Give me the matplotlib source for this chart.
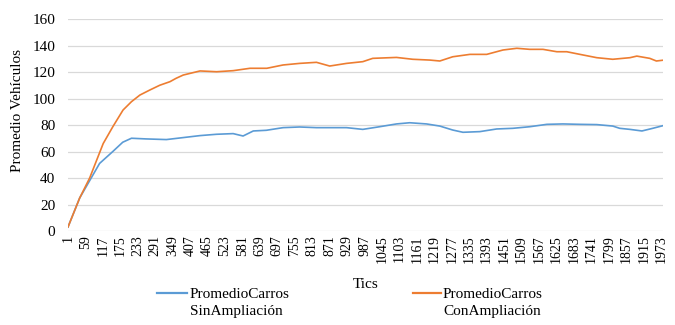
import matplotlib
matplotlib.use("Agg")
import matplotlib.pyplot as plt
from matplotlib.lines import Line2D

plt.rcParams['font.family'] = ['Liberation Serif', 'DejaVu Serif']

# Series (tic, value)
sin_tics = [1, 40, 73, 106, 150, 183, 212, 260, 328, 384, 440, 495, 550, 583, 617, 660,
            716, 771, 827, 871, 927, 981, 1037, 1093, 1137, 1193, 1237, 1280, 1314, 1370,
            1426, 1480, 1536, 1593, 1646, 1703, 1759, 1812, 1835, 1869, 1909, 1945, 1979]
sin_vals = [3, 25, 38, 51, 60, 67, 70, 69.5, 69, 70.5, 72, 73, 73.5, 71.7, 75.5, 76,
            78, 78.5, 78, 78, 78, 76.7, 78.7, 80.8, 81.7, 80.8, 79.2, 76.2, 74.5, 75,
            77, 77.5, 78.7, 80.5, 80.8, 80.5, 80.3, 79.2, 77.5, 76.7, 75.5, 77.5, 79.5]

con_tics = [1, 40, 73, 118, 150, 184, 212, 240, 273, 306, 340, 360, 384, 440, 495, 550,
            606, 662, 716, 771, 827, 871, 927, 981, 1014, 1093, 1147, 1204, 1237, 1280,
            1337, 1393, 1447, 1493, 1536, 1580, 1626, 1659, 1703, 1759, 1812, 1869, 1892,
            1935, 1957, 1979]
con_vals = [3, 25, 40, 66, 78.7, 91.3, 97.6, 102.6, 106.4, 110, 112.7, 115.2, 117.7, 120.8,
            120.2, 121, 122.8, 122.8, 125.3, 126.5, 127.3, 124.5, 126.5, 127.8, 130.3, 131,
            129.6, 129, 128.3, 131.5, 133.3, 133.3, 136.6, 137.9, 137.1, 137.1, 135.3, 135.3,
            133.3, 130.8, 129.6, 130.8, 132, 130.3, 128.3, 128.9]

xtick_labels = list(range(1, 1974, 58))
ytick_vals = list(range(0, 161, 20))

label_sin = "PromedioCarros\nSinAmpliación"
label_con = "PromedioCarros\nConAmpliación"
c_sin = "#5B9BD5"
c_con = "#ED7D31"

fig = plt.figure(figsize=(6.75, 3.25), dpi=100)
ax = fig.add_axes([68/675, 1 - 231/325, (663-68)/675, (231-19)/325])

ax.plot(sin_tics, sin_vals, color=c_sin, lw=1.2)
ax.plot(con_tics, con_vals, color=c_con, lw=1.2)

ax.set_xlim(1, 1979)
ax.set_ylim(0, 160)
ax.set_yticks(ytick_vals)
ax.set_xticks(xtick_labels)
ax.set_xticklabels([str(v) for v in xtick_labels], rotation=90, fontsize=10)
ax.tick_params(axis='y', labelsize=11, length=0, pad=9)
ax.tick_params(axis='x', length=0, pad=3)
ax.grid(axis='y', color='#D9D9D9', lw=0.9)
ax.set_axisbelow(True)
for s in ax.spines.values():
    s.set_visible(False)

fig.text(18/675, 1 - 110/325, "Promedio Vehículos", rotation=90, ha='center', va='center', fontsize=11)
fig.text(366/675, 1 - 285/325, "Tics", ha='center', va='center', fontsize=11)

# legend (manual)
for (x0, x1, tx, lab, col) in [(157, 187, 190, label_sin, c_sin), (413, 441, 443, label_con, c_con)]:
    fig.add_artist(Line2D([x0/675, x1/675], [1 - 293/325, 1 - 293/325], color=col, lw=1.6,
                          transform=fig.transFigure))
    fig.text(tx/675, 1 - 303/325, lab, ha='left', va='center', fontsize=11, linespacing=1.35)

fig.savefig("out.png", dpi=100)
